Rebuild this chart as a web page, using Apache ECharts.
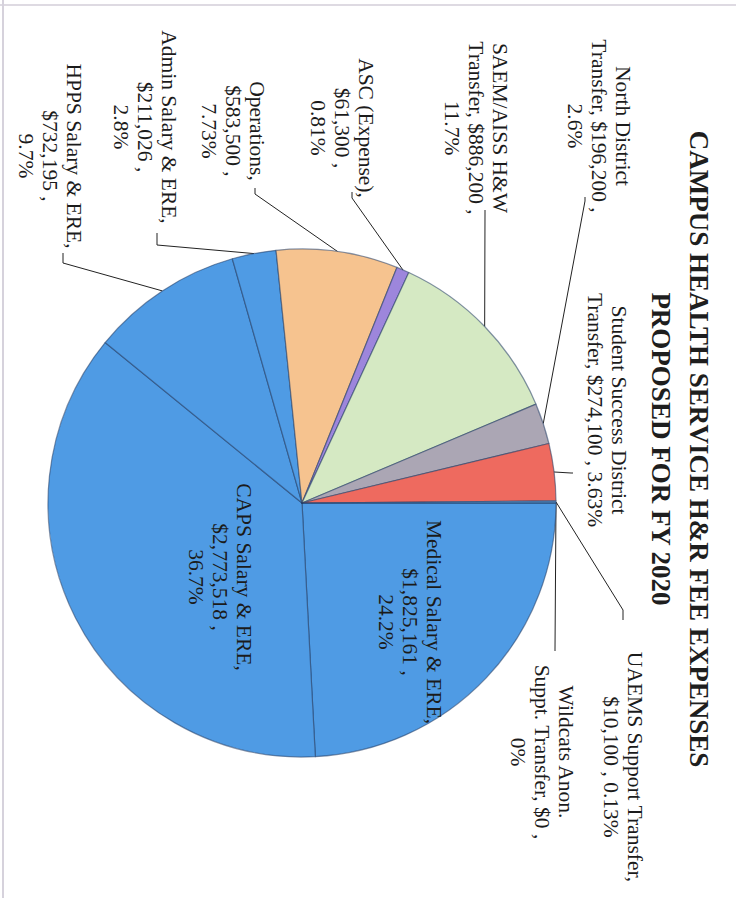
<!DOCTYPE html>
<html>
<head>
<meta charset="utf-8">
<title>Campus Health Service H&amp;R Fee Expenses FY 2020</title>
<script src="https://cdn.jsdelivr.net/npm/echarts@6/dist/echarts.min.js"></script>
<style>
  html, body { margin: 0; padding: 0; background: #fff; width: 736px; height: 898px; overflow: hidden; }
  /* The page is printed in landscape and turned a quarter turn clockwise */
  #page {
    position: absolute; left: 0; top: 0;
    width: 898px; height: 736px;
    transform-origin: 0 0;
    transform: translateX(736px) rotate(90deg);
    background: #fff;
  }
</style>
</head>
<body>
<div id="page"></div>
<script>
// Expense lines, clockwise from 12 o'clock
const categories = [
  'Medical Salary & ERE',
  'CAPS Salary & ERE',
  'HPPS Salary & ERE',
  'Admin Salary & ERE',
  'Operations',
  'ASC (Expense)',
  'SAEM/AISS H&W\nTransfer',
  'North District\nTransfer',
  'Student Success District\nTransfer',
  'UAEMS Support Transfer',
  'Wildcats Anon.\nSuppt. Transfer'
];
const values = [1825161, 2773518, 732195, 211026, 583500, 61300, 886200, 196200, 274100, 10100, 0];
// decimals shown for each percentage
const pctDigits = [1, 1, 1, 1, 2, 2, 1, 1, 2, 2, 0];
// text placed after the name and before the percentage
const nameSep = [',\n', ',\n', ',\n', ',\n', ',\n', ',\n', ', ', ', ', ', ', ',\n', ', '];
const pctSep  = [' ,\n', ' ,\n', ' ,\n', ' ,\n', ' ,\n', ' ,\n', ' ,\n', ' ,\n', ' , ', ' , ', ' ,\n'];

const sliceColors = ['#4f9be4', '#4f9be4', '#4f9be4', '#4f9be4', '#f6c38f', '#9d86dc',
                     '#d5e9c3', '#aba6b4', '#ee6a5f', '#5b9bd5', '#c0504d'];

// label centres and leader-line bends (chart pixels)
const labelCenters = [
  [622, 326], [577, 516], [156, 686], [127, 591], [131, 503], [128, 394],
  [128, 260], [126, 137], [410, 129], [767, 113], [752, 194]
];
const leaderBends = [
  null, null,
  [[263, 673], [253, 673]],
  [[245, 579], [233, 579]],
  [[194, 481], [188, 481]],
  [[198, 384], [192, 384]],
  [[212, 251], [210, 251]],
  [[201, 151], [197, 151]],
  [[473, 165], [473, 163]],
  [[610, 113], [620, 113]],
  [[649, 181], [651, 181]]
];
const insideLabel = [true, true, false, false, false, false, false, false, false, false, false];

const total = values.reduce((a, b) => a + b, 0);
function money(v) { return '$' + v.toLocaleString('en-US'); }

const seriesData = categories.map((name, i) => ({
  name: name,
  value: values[i],
  itemStyle: { color: sliceColors[i] },
  label: insideLabel[i] ? { position: 'inside' } : { position: 'outside' },
  labelLine: { show: !insideLabel[i] }
}));

const chart = echarts.init(document.getElementById('page'), null, { renderer: 'svg', width: 898, height: 736 });

chart.setOption({
  backgroundColor: '#ffffff',
  animation: false,
  title: {
    text: 'CAMPUS HEALTH SERVICE H&R FEE EXPENSES\nPROPOSED FOR FY 2020',
    left: 'center',
    top: 13,
    textStyle: {
      fontFamily: 'Liberation Serif',
      fontWeight: 'bold',
      fontSize: 27,
      lineHeight: 38,
      color: '#1e1e1e'
    }
  },
  graphic: [
    { type: 'line', shape: { x1: 5, y1: 0, x2: 5, y2: 736 }, style: { stroke: '#dedae2', lineWidth: 2 } },
    { type: 'line', shape: { x1: 0, y1: 733, x2: 898, y2: 733 }, style: { stroke: '#d6d2dc', lineWidth: 2 } }
  ],
  series: [{
    type: 'pie',
    center: [503, 434],
    radius: 254,
    startAngle: 90,
    clockwise: true,
    avoidLabelOverlap: false,
    data: seriesData,
    itemStyle: {
      borderColor: 'rgba(35,60,100,0.55)',
      borderWidth: 1.2
    },
    label: {
      show: true,
      overflow: 'none',
      fontFamily: 'Liberation Serif',
      fontSize: 21.5,
      lineHeight: 24,
      color: '#1b1b1b',
      align: 'center',
      formatter: function (p) {
        const i = p.dataIndex;
        const pct = (values[i] / total * 100).toFixed(pctDigits[i]);
        return categories[i] + nameSep[i] + money(values[i]) + pctSep[i] + pct + '%';
      }
    },
    labelLine: {
      show: true,
      length: 20,
      length2: 10,
      lineStyle: { color: '#222', width: 1 }
    },
    labelLayout: function (p) {
      const i = p.dataIndex;
      const c = labelCenters[i];
      const out = { x: c[0], y: c[1], align: 'center', verticalAlign: 'middle' };
      const b = leaderBends[i];
      if (b && p.labelLinePoints) {
        out.labelLinePoints = [p.labelLinePoints[0], b[0], b[1]];
      }
      return out;
    }
  }]
});
</script>
</body>
</html>
